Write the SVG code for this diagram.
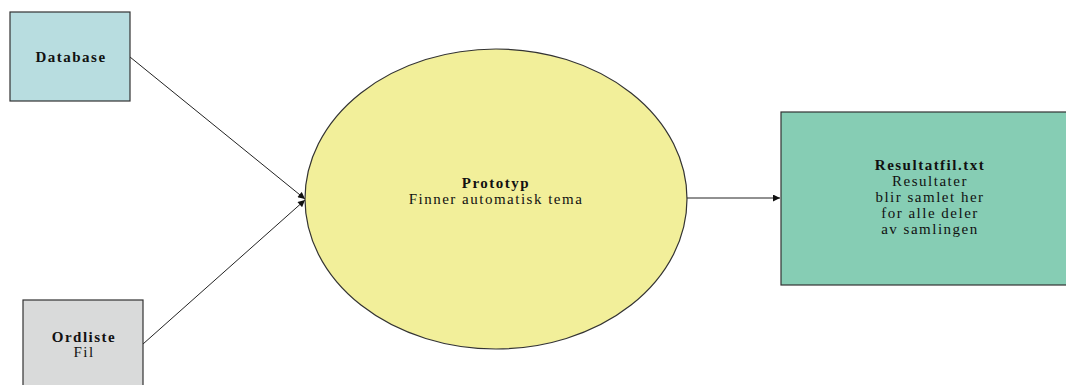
<svg xmlns="http://www.w3.org/2000/svg" width="1066" height="385" viewBox="0 0 1066 385">
  <style>
    .box { stroke: #333; stroke-width: 1.2; }
    .lbl { font-family: "Liberation Serif", "Times New Roman", serif; font-size: 15px; letter-spacing: 1.5px; fill: #111; text-anchor: middle; }
    .b { font-weight: bold; }
    .edge { stroke: #222; stroke-width: 1; fill: none; marker-end: url(#arrow); }
  </style>
  <defs>
    <marker id="arrow" viewBox="0 0 10 10" refX="10" refY="5" markerWidth="9" markerHeight="7" markerUnits="userSpaceOnUse" orient="auto">
      <path d="M0,0 L10,5 L0,10 Z" fill="#111"/>
    </marker>
  </defs>
  <rect width="1066" height="385" fill="#fff"/>

  <g id="connectors">
    <line class="edge" x1="130" y1="57" x2="305" y2="199"/>
    <line class="edge" x1="143" y1="344" x2="305" y2="200"/>
    <line class="edge" x1="687" y1="198" x2="780" y2="198"/>
  </g>

  <g id="database">
    <rect class="box" x="10" y="12" width="120" height="89" fill="#b8dde0"/>
    <text class="lbl b" x="71" y="62">Database</text>
  </g>

  <g id="ordliste">
    <rect class="box" x="23" y="300" width="120" height="90" fill="#d9dada"/>
    <text class="lbl b" x="84" y="342">Ordliste</text>
    <text class="lbl" x="84" y="357">Fil</text>
  </g>

  <g id="prototyp">
    <ellipse class="box" cx="496" cy="199" rx="191" ry="150" fill="#f2ef9a"/>
    <text class="lbl b" x="496" y="188">Prototyp</text>
    <text class="lbl" x="496" y="204">Finner automatisk tema</text>
  </g>

  <g id="resultatfil">
    <rect class="box" x="781" y="112" width="290" height="173" fill="#86cdb4"/>
    <text class="lbl b" x="930" y="170">Resultatfil.txt</text>
    <text class="lbl" x="930" y="186">Resultater</text>
    <text class="lbl" x="930" y="202">blir samlet her</text>
    <text class="lbl" x="930" y="218">for alle deler</text>
    <text class="lbl" x="930" y="234">av samlingen</text>
  </g>
</svg>
